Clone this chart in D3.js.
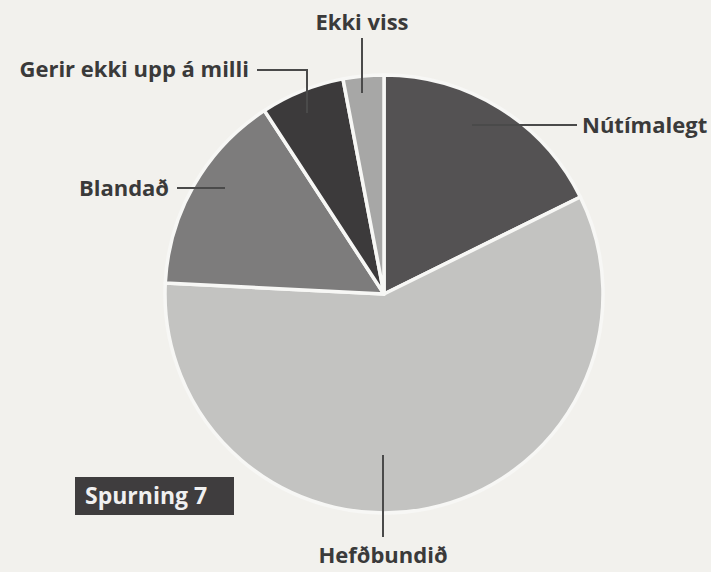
<!DOCTYPE html>
<html>
<head>
<meta charset="utf-8">
<script src="https://cdn.jsdelivr.net/npm/d3@7"></script>
<style>
  html, body { margin: 0; padding: 0; background: #f2f1ed; }
  svg { display: block; }
  text { font-family: "Open Sans", "Noto Sans", sans-serif; font-weight: 700; }
</style>
</head>
<body>
<svg id="chart" width="711" height="572"></svg>
<script>
// Data (clockwise from 12 o'clock)
const categories = ["Nútímalegt", "Hefðbundið", "Blandað", "Gerir ekki upp á milli", "Ekki viss"];
const values = [17.7, 58.1, 15.0, 6.2, 3.0];
const colors = ["#545253", "#c3c3c1", "#7d7c7c", "#3c3a3b", "#a7a7a6"];
const title = "Spurning 7";

const svg = d3.select("#chart");
const W = 711, H = 572;
svg.append("rect").attr("width", W).attr("height", H).attr("fill", "#f2f1ed");

const cx = 384, cy = 294, R = 219;

const pie = d3.pie().sort(null).value(d => d.v);
const arcs = pie(categories.map((c, i) => ({ c, v: values[i], col: colors[i] })));
const arc = d3.arc().innerRadius(0).outerRadius(R);

const g = svg.append("g").attr("transform", `translate(${cx},${cy})`);
g.selectAll("path.slice").data(arcs).join("path")
  .attr("class", "slice")
  .attr("d", arc)
  .attr("fill", d => d.data.col)
  .attr("stroke", "#f7f7f5")
  .attr("stroke-width", 3.5)
  .attr("stroke-linejoin", "round");

// Label layout (leader lines and text positions)
const layout = {
  "Nútímalegt": { pts: [[472, 125], [577, 125]], tx: 582, ty: 133, anchor: "start" },
  "Hefðbundið": { pts: [[383, 455], [383, 537]], tx: 383, ty: 563, anchor: "middle" },
  "Blandað": { pts: [[177, 188], [225, 188]], tx: 169, ty: 196, anchor: "end" },
  "Gerir ekki upp á milli": { pts: [[257, 70], [307, 70], [307, 113]], tx: 249, ty: 77, anchor: "end" },
  "Ekki viss": { pts: [[362, 38], [362, 93]], tx: 362, ty: 30, anchor: "middle" }
};

const line = d3.line();
arcs.forEach(a => {
  const L = layout[a.data.c];
  svg.append("path")
    .attr("d", line(L.pts))
    .attr("fill", "none")
    .attr("stroke", "#4a4a4a")
    .attr("stroke-width", 2);
  svg.append("text")
    .attr("x", L.tx).attr("y", L.ty)
    .attr("text-anchor", L.anchor)
    .attr("font-size", 22)
    .attr("fill", "#3a3a3a")
    .text(a.data.c);
});

// Title box
svg.append("rect").attr("x", 75).attr("y", 477).attr("width", 159).attr("height", 38)
  .attr("fill", "#3f3d3e");
svg.append("text").attr("x", 85).attr("y", 504)
  .attr("font-size", 23).attr("fill", "#f0f0f0")
  .text(title);
</script>
</body>
</html>
